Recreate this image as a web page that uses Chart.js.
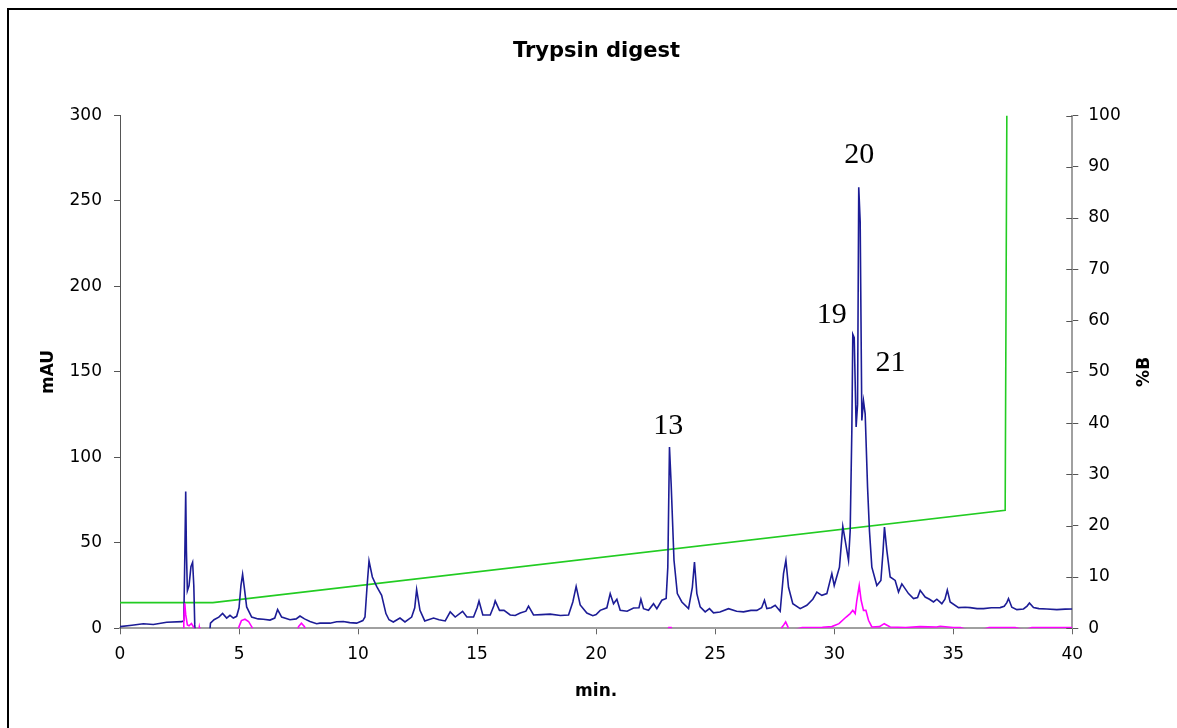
<!DOCTYPE html>
<html>
<head>
<meta charset="utf-8">
<script src="https://cdn.jsdelivr.net/npm/chart.js@4.4.1/dist/chart.umd.min.js"></script>
<style>
  html, body { margin: 0; padding: 0; background: #fff; overflow: hidden; }
  #wrap { position: relative; width: 1177px; height: 728px; }
  #frame { position: absolute; left: 7px; top: 8px; width: 1200px; height: 800px; border: 2px solid #000; box-sizing: border-box; }
  #c { position: absolute; left: 0; top: 0; }
</style>
</head>
<body>
<div id="wrap">
  <div id="frame"></div>
  <canvas id="c" width="1177" height="728"></canvas>
</div>
<script>
// ---- Data ----
const chartTitle = 'Trypsin digest';
const xTitle = 'min.';
const yLeftTitle = 'mAU';
const yRightTitle = '%B';

// Blue chromatogram (mAU vs min)
const blueTimes = [0,0.5,0.98,1.4,1.96,2.6,2.68,2.72,2.76,2.79,2.83,2.9,2.98,3.05,3.1,3.14,3.17,3.75,3.8,3.95,4.15,4.31,4.48,4.62,4.76,4.9,5.0,5.08,5.15,5.22,5.32,5.53,5.8,6.02,6.3,6.5,6.62,6.79,7.14,7.4,7.56,7.75,7.98,8.26,8.4,8.82,9.1,9.38,9.65,9.94,10.2,10.29,10.38,10.46,10.6,10.78,10.99,11.17,11.3,11.48,11.76,11.97,12.25,12.38,12.46,12.6,12.8,13.17,13.4,13.66,13.87,14.08,14.39,14.57,14.85,15.0,15.08,15.24,15.55,15.7,15.76,15.94,16.13,16.39,16.6,16.81,17.05,17.16,17.37,17.7,18.07,18.5,18.84,19.02,19.16,19.33,19.61,19.86,20.0,20.17,20.45,20.59,20.73,20.87,21.01,21.3,21.57,21.8,21.88,21.99,22.2,22.41,22.55,22.76,22.94,23.01,23.08,23.15,23.27,23.41,23.6,23.88,24.04,24.13,24.23,24.37,24.58,24.76,24.93,25.2,25.56,25.9,26.19,26.5,26.75,26.95,27.07,27.17,27.35,27.52,27.73,27.87,27.97,28.08,28.26,28.57,28.85,29.1,29.27,29.48,29.69,29.9,30.0,30.22,30.36,30.46,30.6,30.67,30.74,30.78,30.84,30.92,30.98,31.03,31.09,31.16,31.23,31.3,31.4,31.48,31.58,31.79,31.96,32.05,32.11,32.21,32.35,32.56,32.7,32.84,33.12,33.33,33.5,33.61,33.82,34.0,34.17,34.31,34.52,34.65,34.75,34.87,35.22,35.5,35.71,36.0,36.27,36.6,36.97,37.14,37.25,37.32,37.46,37.67,37.95,38.1,38.2,38.37,38.6,38.93,39.35,39.7,40];
const blueValues = [1,1.8,2.7,2.2,3.5,3.9,4.5,40,80,45,22,25,36,38.6,25,2,-5,-5,3,5,6.5,8.7,6,7.6,6,7,12,25,31.6,24,12.5,6.6,5.5,5.3,4.8,6,11,6.6,5,5.5,7.2,5.5,4,2.7,3,3,3.8,4,3.3,3,4.5,6.6,25,39.4,30,24.5,19.3,8.6,5,3.7,6,3.7,6.6,12,22.6,10.5,4.3,6,5,4.3,9.6,6.6,9.9,6.6,6.6,12,16,7.8,7.8,13,16,10.5,10.5,7.8,7.5,8.9,10,13,7.8,8,8.3,7.5,7.8,15.4,24.5,13.7,8.9,7.4,8,10.5,12,20.3,14.4,17,10.5,10,11.9,12,17,11.5,10.5,14.4,11.5,16.4,17.4,35.8,106,84.6,39.8,20.3,15.4,11.5,24,38.8,20.3,12.5,9.6,11.5,9,9.5,11.5,10,9.6,10.5,10.5,12,16.4,11.5,12,13.5,10,32,39.8,24,14.4,11.5,13.5,17,21.2,19.3,20.3,32,25,35.8,59.6,51.5,39.8,57,115.8,172,170,117.8,131,258,238,121.6,133,125.5,82.6,57,35.8,25,28,45,59.2,45.6,30,28,21.2,26,20.3,17.4,18,22.2,18.3,17,15.4,17,14.4,17,22.4,15.4,12.1,12.3,12.1,11.5,11.5,12,12.1,12.9,15,17.4,12.3,10.9,11.3,13,14.8,12.1,11.5,11.3,10.9,11.2,11.3];

// Magenta trace (mAU vs min)
const magentaTimes = [0,2.66,2.68,2.72,2.76,2.83,2.9,3.0,3.08,3.12,3.3,3.33,3.36,4.95,5.0,5.1,5.25,5.4,5.55,5.6,7.45,7.5,7.62,7.75,7.8,23.0,23.05,23.15,23.2,27.75,27.8,27.88,27.96,28.05,28.1,28.65,29.5,29.9,30.2,30.5,30.67,30.78,30.88,30.95,31.05,31.13,31.23,31.33,31.44,31.58,31.9,32.1,32.35,33.0,33.6,34.3,34.45,35.0,35.3,35.6,36.2,36.5,37.0,37.3,37.6,38.0,38.3,38.6,39.0,40];
const magentaValues = [-2,-2,5,14.6,8,2,1.5,2.8,1,-2,-2,0.6,-2,-2,1,4.5,5.3,4,0.5,-2,-2,1,3,1,-2,-2,0.4,0.4,-2,-2,0.5,2,3.7,1,-2,0.5,0.6,1,2.7,6.6,8.6,10.5,8.6,16.4,25,16.4,10.5,10.5,4.7,0.8,1,2.7,0.8,0.5,1,0.8,1.2,0.5,0.4,-1,-1,0.4,0.4,0.5,0.4,-1,0.4,0.4,0.5,0.4];

// Gradient (%B vs min, right axis)
const gradientTimes = [0, 3.9, 37.18, 37.25];
const gradientValues = [5, 5, 23, 100];

// Peak labels (anchored in data coordinates: min, mAU)
const peakLabels = ['13', '19', '20', '21'];
const peakLabelTimes = [23.03, 29.9, 31.05, 32.36];
const peakLabelValues = [118, 183, 277, 155];

// Axis ranges / ticks
const xMin = 0, xMax = 40, xStep = 5;
const yMin = 0, yMax = 300, yStep = 50;
const y2Min = 0, y2Max = 100, y2Step = 10;

// ---- Build ----
const toPts = (xs, ys) => xs.map((x, i) => ({ x: x, y: ys[i] }));
const FONT = 'DejaVu Sans';

const peakLabelPlugin = {
  id: 'peakLabels',
  afterDatasetsDraw(chart) {
    const ctx = chart.ctx, xs = chart.scales.x, ys = chart.scales.y;
    ctx.save();
    ctx.font = '30px "Liberation Serif"';
    ctx.fillStyle = '#000';
    ctx.textAlign = 'center';
    ctx.textBaseline = 'middle';
    peakLabels.forEach((t, i) => {
      ctx.fillText(t, xs.getPixelForValue(peakLabelTimes[i]), ys.getPixelForValue(peakLabelValues[i]));
    });
    ctx.restore();
  }
};

// right-axis extras: inner half of tick marks + title reading bottom-to-top
const rightAxisPlugin = {
  id: 'rightAxisExtras',
  afterDraw(chart) {
    const ctx = chart.ctx, s = chart.scales.y2;
    ctx.save();
    ctx.strokeStyle = '#555';
    ctx.lineWidth = 1;
    s.ticks.forEach(t => {
      const y = Math.round(s.getPixelForValue(t.value)) + 0.5;
      ctx.beginPath();
      ctx.moveTo(s.left - 6, y);
      ctx.lineTo(s.left, y);
      ctx.stroke();
    });
    ctx.font = 'bold 17px "' + FONT + '"';
    ctx.fillStyle = '#000';
    ctx.textAlign = 'center';
    ctx.textBaseline = 'middle';
    ctx.translate(s.right - 14.2, (s.top + s.bottom) / 2);
    ctx.rotate(-Math.PI / 2);
    ctx.fillText(yRightTitle, 0, 0);
    ctx.restore();
  }
};

new Chart(document.getElementById('c'), {
  type: 'line',
  data: {
    datasets: [
      { label: 'mAU', data: toPts(blueTimes, blueValues), borderColor: '#1c1c96', borderWidth: 1.6, pointRadius: 0, tension: 0, yAxisID: 'y', order: 2 },
      { label: 'mAU 2', data: toPts(magentaTimes, magentaValues), borderColor: '#ff00ff', borderWidth: 1.6, pointRadius: 0, tension: 0, yAxisID: 'y', order: 1 },
      { label: '%B', data: toPts(gradientTimes, gradientValues), borderColor: '#22cc22', borderWidth: 1.6, pointRadius: 0, tension: 0, yAxisID: 'y2', order: 3 }
    ]
  },
  options: {
    responsive: false,
    animation: false,
    devicePixelRatio: 1,
    layout: { padding: { left: 34, right: 18, top: 0, bottom: 22 } },
    plugins: {
      legend: { display: false },
      tooltip: { enabled: false },
      title: {
        display: true, text: chartTitle, color: '#000',
        font: { family: FONT, size: 21, weight: 'bold' },
        padding: { top: 39, bottom: 51.3 }
      }
    },
    scales: {
      x: {
        type: 'linear', min: xMin, max: xMax,
        afterFit: s => { s.height = 77.7; },
        ticks: { stepSize: xStep, color: '#000', font: { family: FONT, size: 17 }, padding: 10, maxRotation: 0 },
        grid: { drawOnChartArea: false, drawTicks: true, tickLength: 6, color: '#666' },
        border: { display: true, color: '#a0a0a0', width: 2 },
        title: { display: true, text: xTitle, color: '#000', font: { family: FONT, size: 17, weight: 'bold' } }
      },
      y: {
        type: 'linear', position: 'left', min: yMin, max: yMax,
        afterFit: s => { s.width = 86; },
        ticks: { stepSize: yStep, color: '#000', font: { family: FONT, size: 17 }, padding: 12 },
        grid: { drawOnChartArea: false, drawTicks: true, tickLength: 6, color: '#555' },
        border: { display: true, color: '#555', width: 1 },
        title: { display: true, text: yLeftTitle, color: '#000', font: { family: FONT, size: 17, weight: 'bold' } }
      },
      y2: {
        type: 'linear', position: 'right', min: y2Min, max: y2Max,
        afterFit: s => { s.width = 86.7; },
        ticks: { stepSize: y2Step, color: '#000', font: { family: FONT, size: 17 }, padding: 10 },
        grid: { drawOnChartArea: false, drawTicks: true, tickLength: 6, color: '#555' },
        border: { display: true, color: '#a0a0a0', width: 2 },
        title: { display: false, text: yRightTitle }
      }
    }
  },
  plugins: [peakLabelPlugin, rightAxisPlugin]
});
</script>
</body>
</html>
